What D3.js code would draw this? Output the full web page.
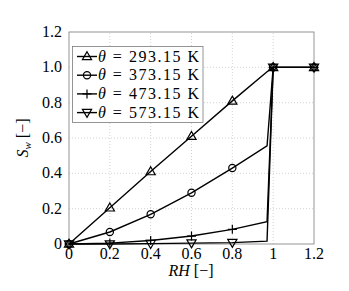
<!DOCTYPE html>
<html>
<head>
<meta charset="utf-8">
<script src="https://cdn.jsdelivr.net/npm/d3@7"></script>
<style>
body { margin: 0; background: #fff; }
</style>
</head>
<body>
<svg id="chart" width="349" height="291"></svg>
<script>
// data
var rh = [0, 0.2, 0.4, 0.6, 0.8, 0.97, 1.0, 1.2];
var markerIdx = [0, 1, 2, 3, 4, 6, 7];   // markers at every 0.2 step
var s293 = [0, 0.205, 0.41, 0.61, 0.81, 0.975, 1.0, 1.0];
var s373 = [0, 0.068, 0.168, 0.29, 0.43, 0.555, 1.0, 1.0];
var s473 = [0, 0.005, 0.02, 0.045, 0.083, 0.126, 1.0, 1.0];
var s573 = [0, 0.0, 0.002, 0.005, 0.008, 0.016, 1.0, 1.0];
var labels = ["293.15", "373.15", "473.15", "573.15"];
var symbols = ["triUp", "circle", "plus", "triDown"];
var xTicks = [0, 0.2, 0.4, 0.6, 0.8, 1, 1.2];
var yTicks = [0, 0.2, 0.4, 0.6, 0.8, 1.0, 1.2];
var xTickLabels = ["0", "0.2", "0.4", "0.6", "0.8", "1", "1.2"];
var yTickLabels = ["0", "0.2", "0.4", "0.6", "0.8", "1.0", "1.2"];

var series = [s293, s373, s473, s573];
var serif = "'Liberation Serif', 'DejaVu Serif', serif";

var svg = d3.select("#chart");
var x = d3.scaleLinear().domain([0, 1.2]).range([69, 314]);
var y = d3.scaleLinear().domain([0, 1.2]).range([244, 32]);

// grid
svg.append("g").selectAll("line").data(xTicks.slice(1, -1)).enter().append("line")
  .attr("x1", d => x(d)).attr("x2", d => x(d)).attr("y1", y(0)).attr("y2", y(1.2))
  .attr("stroke", "#c8c8c8").attr("stroke-width", 0.8).attr("stroke-dasharray", "1,2");
svg.append("g").selectAll("line").data(yTicks.slice(1, -1)).enter().append("line")
  .attr("y1", d => y(d)).attr("y2", d => y(d)).attr("x1", x(0)).attr("x2", x(1.2))
  .attr("stroke", "#c8c8c8").attr("stroke-width", 0.8).attr("stroke-dasharray", "1,2");

// box
svg.append("rect").attr("x", x(0)).attr("y", y(1.2))
  .attr("width", x(1.2) - x(0)).attr("height", y(0) - y(1.2))
  .attr("fill", "none").attr("stroke", "#7a7a7a").attr("stroke-width", 0.8);

// tick labels
svg.append("g").selectAll("text").data(xTicks).enter().append("text")
  .attr("x", d => x(d)).attr("y", 259).attr("text-anchor", "middle")
  .style("font-family", serif).style("font-size", "16px").text((d, i) => xTickLabels[i]);
svg.append("g").selectAll("text").data(yTicks).enter().append("text")
  .attr("x", 62).attr("y", d => y(d) + 5).attr("text-anchor", "end")
  .style("font-family", serif).style("font-size", "16px").text((d, i) => yTickLabels[i]);

// axis titles
var xl = svg.append("text").attr("x", 191).attr("y", 276).attr("text-anchor", "middle")
  .style("font-family", serif).style("font-size", "16px");
xl.append("tspan").style("font-style", "italic").text("RH");
xl.append("tspan").text(" [\u2212]");
var yl = svg.append("text").attr("transform", "translate(28,138) rotate(-90)")
  .attr("text-anchor", "middle").style("font-family", serif).style("font-size", "16px");
yl.append("tspan").style("font-style", "italic").text("S");
yl.append("tspan").style("font-style", "italic").style("font-size", "11px").attr("dy", 3).text("w");
yl.append("tspan").attr("dy", -3).text(" [\u2212]");

function drawMarker(g, type, cx, cy) {
  if (type === "circle") {
    g.append("circle").attr("cx", cx).attr("cy", cy).attr("r", 3.6)
      .attr("fill", "none").attr("stroke", "#000").attr("stroke-width", 1.2);
  } else if (type === "plus") {
    g.append("path").attr("d", "M" + (cx - 4.5) + "," + cy + "h9M" + cx + "," + (cy - 4.5) + "v9")
      .attr("stroke", "#000").attr("stroke-width", 1.2);
  } else {
    var s = type === "triUp" ? 1 : -1;
    var p = "M" + cx + "," + (cy - 4.8 * s) + "L" + (cx + 4.6) + "," + (cy + 3.2 * s) + "L" + (cx - 4.6) + "," + (cy + 3.2 * s) + "Z";
    g.append("path").attr("d", p).attr("fill", "none").attr("stroke", "#000").attr("stroke-width", 1.2);
  }
}

var line = d3.line().x(d => x(d[0])).y(d => y(d[1]));
var plot = svg.append("g");
series.forEach(function(s, k) {
  var pts = rh.map((r, i) => [r, s[i]]);
  plot.append("path").attr("d", line(pts)).attr("fill", "none")
    .attr("stroke", "#000").attr("stroke-width", 1.4);
  markerIdx.forEach(function(i) { drawMarker(plot, symbols[k], x(rh[i]), y(s[i])); });
});

// legend
var lg = svg.append("g");
lg.append("rect").attr("x", 72.5).attr("y", 46.5).attr("width", 130.5).attr("height", 76)
  .attr("fill", "#fff").attr("stroke", "#7a7a7a").attr("stroke-width", 0.8);
labels.forEach(function(l, k) {
  var yy = 56.5 + k * 18.7;
  lg.append("line").attr("x1", 77).attr("x2", 97).attr("y1", yy).attr("y2", yy)
    .attr("stroke", "#000").attr("stroke-width", 1.4);
  drawMarker(lg, symbols[k], 87, yy);
  var t = lg.append("text").attr("x", 98).attr("y", yy + 5)
    .attr("textLength", 101).attr("lengthAdjust", "spacing")
    .style("font-family", serif).style("font-size", "16px");
  t.append("tspan").style("font-style", "italic").text("\u03b8");
  t.append("tspan").text(" = " + l + " K");
});
</script>
</body>
</html>
